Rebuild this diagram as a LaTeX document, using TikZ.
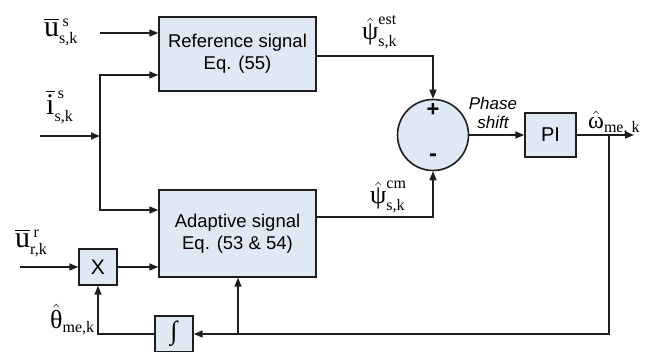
\documentclass[tikz,border=0pt]{standalone}
\usepackage{amsmath}
\usepackage{fontspec}
\setmainfont{Liberation Sans}
\newfontfamily\tnr{Liberation Serif}
\usetikzlibrary{arrows.meta,calc}
\definecolor{boxfill}{HTML}{E0E8F4}
\definecolor{edge}{HTML}{1E1E1E}
\newcommand{\rmtxt}[1]{\text{\tnr #1}}
\newcommand{\rmsc}[1]{\mbox{\tnr\fontsize{16}{17}\selectfont #1}}

\tikzset{
  block/.style={draw=edge,fill=boxfill,line width=1.4pt,inner sep=0pt,
    align=center,font=\fontsize{18.5}{22}\selectfont},
  sig/.style={draw=edge,line width=1.5pt,-{Triangle[length=9pt,width=7pt]}},
  lbl/.style={inner sep=0pt,anchor=base west,font=\fontsize{30}{32}\selectfont},
  greek/.style={lbl,font=\fontsize{26}{28}\selectfont},
}

\begin{document}
\begin{tikzpicture}[x=1pt,y=-1pt]
  \useasboundingbox (0,0) rectangle (653,352);

  % blocks
  \node[block,minimum width=157pt,minimum height=74pt] (ref) at (237.5,54)
    {Reference signal\\Eq. (55)};
  \node[block,minimum width=157pt,minimum height=87pt] (adapt) at (237.5,233.5)
    {Adaptive signal\\Eq. (53 \& 54)};
  \node[block,minimum width=38pt,minimum height=36pt,font=\fontsize{21}{24}\selectfont]
    (mult) at (98,267) {X};
  \node[block,minimum width=38pt,minimum height=36pt,font=\tnr\fontsize{26}{28}\selectfont]
    (integ) at (174,334) {∫};
  \node[circle,draw=edge,fill=boxfill,line width=1.6pt,minimum size=71pt,inner sep=0pt]
    (sum) at (433,135) {};
  \node[block,minimum width=51pt,minimum height=44pt,font=\fontsize{20}{24}\selectfont]
    (pi) at (550.5,135) {PI};
  \node[font=\bfseries\fontsize{22}{24}\selectfont] (plus) at (433,110) {+};
  \node[font=\bfseries\fontsize{24}{24}\selectfont] (minus) at (433,158) {-};

  % free ends
  \coordinate (us) at (100,33);
  \coordinate (is) at (40,136);
  \coordinate (isj) at (100,136);
  \coordinate (ur) at (20,267);
  \coordinate (out) at (634,135);
  \coordinate (fb) at (609,135);
  \coordinate (tap) at (238,334);

  % signals
  \draw[sig] (us) -- (us -| ref.west);
  \draw[sig] (is) -- (isj);
  \draw[sig] (isj) |- ($(ref.west)+(0,21)$);
  \draw[sig] (isj) |- ($(adapt.west)+(0,-23.5)$);
  \draw[sig] (ur) -- (mult.west);
  \draw[sig] (mult.east) -- (mult.east -| adapt.west);
  \draw[sig] ($(ref.east)+(0,2)$) -| (sum.north);
  \draw[sig] ($(adapt.east)+(0,-16.5)$) -| (sum.south);
  \draw[sig] (sum.east) -- (pi.west);
  \draw[sig] (pi.east) -- (out);
  \draw[sig] (fb) |- (integ.east);
  \draw[sig] (tap) -- (tap |- adapt.south);
  \draw[sig] (integ.west) -| (mult.south);

  % labels
  \node[lbl] (uslbl) at (44,37) {$\overline{\rmtxt{u}}^{\,\rmsc{s}}_{\rmsc{s,k}}$};
  \node[lbl] (islbl) at (46,115) {$\overline{\rmtxt{i}}^{\,\rmsc{s}}_{\rmsc{s,k}}$};
  \node[lbl] (urlbl) at (15,248) {$\overline{\rmtxt{u}}^{\,\rmsc{r}}_{\rmsc{r,k}}$};
  \node[greek] (thlbl) at (50,329) {$\hat{\rmtxt{θ}}_{\rmsc{me,k}}$};
  \node[greek] (estlbl) at (362,40) {$\hat{\rmtxt{ψ}}^{\rmsc{est}}_{\rmsc{s,k}}$};
  \node[greek] (cmlbl) at (370,204) {$\hat{\rmtxt{ψ}}^{\rmsc{cm}}_{\rmsc{s,k}}$};
  \node[greek,font=\fontsize{24}{26}\selectfont] (omlbl) at (588,129)
    {$\hat{\rmtxt{ω}}_{\rmsc{me, k}}$};
  \node[font=\itshape\fontsize{17}{19}\selectfont,align=center] (phase) at (493,113)
    {Phase\\shift};
\end{tikzpicture}
\end{document}
